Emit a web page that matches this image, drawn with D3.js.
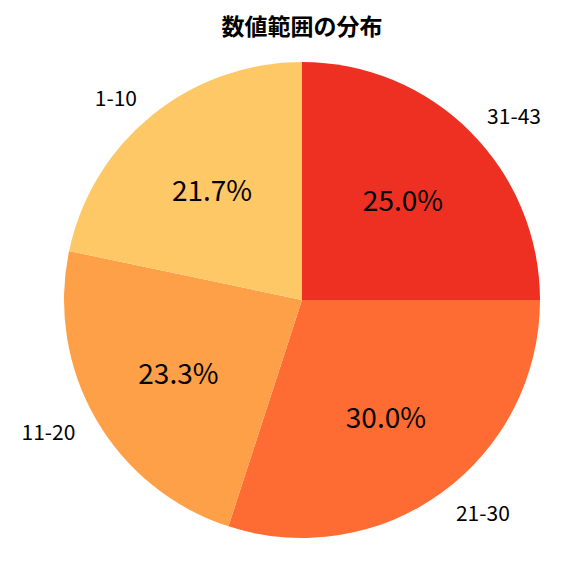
<!DOCTYPE html>
<html><head><meta charset="utf-8">
<script src="https://cdn.jsdelivr.net/npm/d3@7"></script>
<style>body{margin:0;background:#fff}</style>
</head><body>
<svg id="c" width="576" height="576"></svg>
<script>
const categories = ["31-43", "21-30", "11-20", "1-10"];
const values = [25.0, 30.0, 23.3, 21.7];
const colors = ["#EE3023", "#FE6B33", "#FDA047", "#FEC867"];
const title = "数値範囲の分布";

const svg = d3.select("#c");
const cx = 302, cy = 300, r = 238;
const font = "'Noto Sans CJK JP', 'Noto Sans', sans-serif";

const data = categories.map((c, i) => ({c, v: values[i], col: colors[i]}));
const pie = d3.pie().value(d => d.v).sort(null);
const arcs = pie(data);
const arc = d3.arc().innerRadius(0).outerRadius(r);

const g = svg.append("g").attr("transform", `translate(${cx},${cy})`);
g.selectAll("path").data(arcs).join("path")
  .attr("d", arc).attr("fill", d => d.data.col);

arcs.forEach(a => {
  const m = (a.startAngle + a.endAngle) / 2;
  const sx = Math.sin(m), sy = -Math.cos(m);
  g.append("text")
    .attr("x", sx * r * 1.1).attr("y", sy * r * 1.1)
    .attr("text-anchor", sx >= 0 ? "start" : "end")
    .attr("dominant-baseline", "central")
    .attr("font-family", font).attr("font-size", 21).attr("fill", "#000")
    .text(a.data.c);
  g.append("text")
    .attr("x", sx * r * 0.6).attr("y", sy * r * 0.6)
    .attr("text-anchor", "middle")
    .attr("dominant-baseline", "central")
    .attr("font-family", font).attr("font-size", 28).attr("fill", "#000")
    .text(a.data.v.toFixed(1) + "%");
});

svg.append("text").attr("x", cx).attr("y", 25)
  .attr("text-anchor", "middle").attr("dominant-baseline", "central")
  .attr("font-family", font).attr("font-size", 23).attr("font-weight", "bold")
  .text(title);
</script>
</body></html>
